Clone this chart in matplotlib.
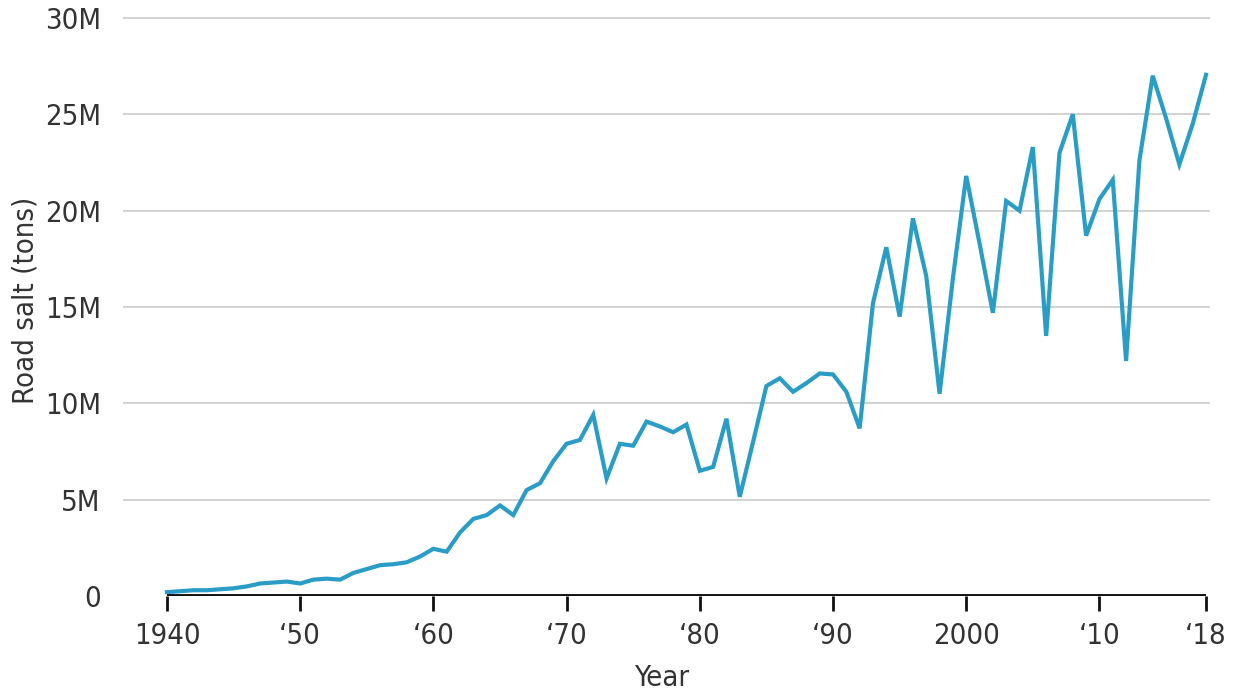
import matplotlib
matplotlib.use("Agg")
import matplotlib.pyplot as plt
from matplotlib import font_manager
from matplotlib.ticker import FuncFormatter

# Road salt use by year (millions of tons)
years = list(range(1940, 2019))
salt_m = [
    0.20, 0.25, 0.30, 0.30, 0.35, 0.40, 0.50, 0.65, 0.70, 0.75,   # 1940s
    0.65, 0.85, 0.90, 0.85, 1.20, 1.40, 1.60, 1.65, 1.75, 2.05,   # 1950s
    2.45, 2.30, 3.30, 4.00, 4.20, 4.70, 4.20, 5.50, 5.85, 7.00,   # 1960s
    7.90, 8.10, 9.40, 6.10, 7.90, 7.80, 9.05, 8.80, 8.50, 8.90,   # 1970s
    6.50, 6.70, 9.20, 5.15, 8.00, 10.9, 11.3, 10.6, 11.05, 11.55,  # 1980s
    11.5, 10.6, 8.70, 15.2, 18.1, 14.5, 19.6, 16.6, 10.5, 16.5,   # 1990s
    21.8, 18.3, 14.7, 20.5, 20.0, 23.3, 13.5, 23.0, 25.0, 18.7,   # 2000s
    20.6, 21.6, 12.2, 22.6, 27.0, 24.8, 22.4, 24.5, 27.05,         # 2010s
]
salt = [v * 1e6 for v in salt_m]

xticks = [1940, 1950, 1960, 1970, 1980, 1990, 2000, 2010, 2018]
xtick_labels = ["1940", "\u201850", "\u201860", "\u201870", "\u201880",
                "\u201890", "2000", "\u201810", "\u201818"]
yticks = [0, 5e6, 10e6, 15e6, 20e6, 25e6, 30e6]

# look for a narrow face; fall back to DejaVu Sans at a smaller size
narrow = None
for f in font_manager.fontManager.ttflist:
    n = f.name.lower()
    if ("narrow" in n or "condensed" in n or f.stretch in ("condensed", "semi-condensed")) \
            and f.style == "normal" and f.weight in (400, "normal", "regular"):
        narrow = f
        break

if narrow is not None:
    plt.rcParams["font.family"] = [narrow.name, "DejaVu Sans"]
    plt.rcParams["font.stretch"] = narrow.stretch
    fs = 21
else:
    plt.rcParams["font.family"] = ["DejaVu Sans"]
    fs = 18

fig = plt.figure(figsize=(12.5, 6.94), dpi=100)
ax = fig.add_axes([0.0984, 0.1412, 0.8696, 0.8343])

ax.plot(years, salt, color="#2A9DC7", linewidth=3.0, solid_joinstyle="miter",
        zorder=3)

ax.set_xlim(1936.7, 2018.3)
ax.set_ylim(0, 30.05e6)

# horizontal gridlines (the zero line is replaced by the black axis)
for y in yticks[1:]:
    ax.axhline(y, color="#cfcfcf", linewidth=1.3, zorder=1)
ax.hlines(0, 1940, 2018, color="#111111", linewidth=2.8, zorder=4)

ax.set_xticks(xticks)
ax.set_xticklabels(xtick_labels)
ax.set_yticks(yticks)
ax.yaxis.set_major_formatter(
    FuncFormatter(lambda v, p: "0" if v == 0 else f"{int(v / 1e6)}M"))

ax.tick_params(axis="x", length=10.5, width=2.0, color="#111111", pad=8,
               labelsize=fs, labelcolor="#333333")
ax.tick_params(axis="y", length=0, pad=16, labelsize=fs, labelcolor="#333333")

for s in ax.spines.values():
    s.set_visible(False)

ax.set_xlabel("Year", fontsize=fs, color="#333333")
ax.set_ylabel("Road salt (tons)", fontsize=fs, color="#333333")
ax.xaxis.set_label_coords(0.4957, -0.118)
ax.yaxis.set_label_coords(-0.0764, 0.51)

fig.savefig("out.png", dpi=100, facecolor="white")
plt.close(fig)
